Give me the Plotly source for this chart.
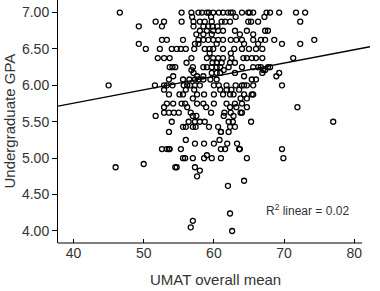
import plotly.graph_objects as go

# UMAT overall mean (x) grouped by undergraduate GPA value (y)
rows = [
    (7.00, [46.6, 55.4, 56.8, 57.8, 58.3, 59.0, 59.3, 59.9, 60.7, 61.3, 62.0, 62.4, 62.7, 64.0, 64.9, 65.1, 65.6, 67.5, 68.0, 69.3, 71.7, 73.0]),
    (6.94, [56.9, 59.6, 63.1, 67.2]),
    (6.875, [51.7, 52.9, 55.4, 57.1, 58.0, 58.7, 59.7, 61.1, 61.6, 62.3, 64.9, 65.3, 66.3, 72.3]),
    (6.81, [49.3, 52.6, 57.1, 58.5, 59.2, 59.8, 60.5]),
    (6.75, [58.0, 59.0, 59.9, 60.6, 61.3, 63.0, 64.7, 67.3, 67.7]),
    (6.70, [57.5, 58.5, 59.7, 63.7, 65.6]),
    (6.625, [52.6, 53.3, 55.6, 57.8, 58.5, 59.2, 59.9, 60.6, 61.3, 62.4, 63.2, 64.0, 65.6, 66.7, 67.3, 68.6, 74.3]),
    (6.57, [49.3, 57.3, 57.8, 60.4, 64.3, 66.3, 69.7, 72.3]),
    (6.50, [50.3, 52.3, 54.0, 54.7, 55.3, 56.0, 57.2, 58.7, 59.4, 59.9, 61.3, 62.9, 64.0, 65.0, 66.0, 66.9]),
    (6.44, [59.4, 62.4]),
    (6.375, [52.0, 52.9, 53.7, 56.8, 59.0, 59.9, 60.6, 61.3, 62.5, 64.2, 64.7, 65.4, 66.0, 66.9, 71.3]),
    (6.31, [56.1, 59.8, 60.4, 61.1, 62.3, 63.0]),
    (6.25, [53.7, 54.1, 54.5, 57.0, 58.5, 59.0, 59.7, 60.4, 60.9, 62.1, 64.0, 65.6, 66.3, 66.7, 67.7, 68.0]),
    (6.21, [56.8, 61.4, 67.3, 67.0]),
    (6.17, [57.1, 59.7, 60.4, 60.9, 63.0, 66.9, 69.3]),
    (6.125, [54.2, 57.6, 58.5, 64.3, 68.9]),
    (6.08, [53.6, 55.6, 56.5, 57.3, 57.8, 58.5, 59.5, 60.4, 65.4, 66.0]),
    (6.00, [45.0, 51.6, 52.9, 53.3, 54.1, 55.7, 56.2, 56.6, 57.3, 58.0, 60.0, 60.7, 61.8, 63.1, 64.0, 64.3, 64.7, 65.6, 69.7]),
    (5.94, [52.9, 56.0, 57.2, 60.9, 61.8, 62.5, 63.6]),
    (5.875, [53.6, 55.1, 55.6, 57.6, 58.6, 60.0, 61.3, 62.3, 62.8, 64.3, 65.4, 65.6]),
    (5.82, [57.0, 63.8, 64.7]),
    (5.75, [53.3, 54.2, 55.4, 55.9, 57.6, 58.5, 60.0, 61.8, 63.0, 64.0]),
    (5.70, [52.9, 56.2, 58.9, 62.3, 63.2, 64.7, 71.9]),
    (5.625, [52.9, 53.6, 54.3, 55.0, 56.7, 59.6, 61.5, 62.4, 63.8, 64.0]),
    (5.58, [51.7, 57.0, 57.5, 61.4, 62.8]),
    (5.50, [54.0, 56.4, 57.3, 58.0, 58.7, 62.1, 62.7, 65.3, 77.0]),
    (5.43, [55.6, 56.0, 57.0, 57.4, 59.3, 60.6, 62.3, 63.0]),
    (5.36, [53.6, 61.0, 61.0, 62.1]),
    (5.25, [56.0, 60.8]),
    (5.20, [57.3, 58.6, 60.0, 61.9, 63.3]),
    (5.125, [52.6, 53.3, 53.6, 53.7, 55.3, 61.0, 61.6, 63.6, 63.7, 69.7]),
    (5.04, [59.0]),
    (5.00, [55.6, 55.9, 57.0, 58.6, 59.7, 61.0, 64.7, 69.9]),
    (4.92, [50.0]),
    (4.875, [46.0, 54.5, 54.7, 57.3]),
    (4.83, [58.0]),
    (4.75, [57.6]),
    (4.69, [64.3]),
    (4.62, [62.0]),
    (4.24, [62.3]),
    (4.14, [57.0]),
    (4.05, [56.7]),
    (4.00, [62.6]),
]

umat = [x for y, xs in rows for x in xs]
gpa = [y for y, xs in rows for x in xs]

fit_intercept = 5.023
fit_slope = 0.01833
x_range = [37.79, 82.24]
y_range = [3.835, 7.172]
y_ticks = [4.0, 4.5, 5.0, 5.5, 6.0, 6.5, 7.0]
x_ticks = [40, 50, 60, 70, 80]

FONT = "Liberation Sans, Arial, sans-serif"
TXT = "#333333"

fig = go.Figure()
fig.add_trace(go.Scatter(
    x=x_range, y=[fit_intercept + fit_slope * v for v in x_range],
    mode="lines", line=dict(color="black", width=1.3), hoverinfo="skip"))
fig.add_trace(go.Scatter(
    x=umat, y=gpa, mode="markers",
    marker=dict(symbol="circle-open", size=5, color="black", line=dict(width=1.3))))

fig.update_layout(
    width=380, height=291,
    margin=dict(l=58, r=10, t=0, b=48),
    paper_bgcolor="white", plot_bgcolor="white",
    showlegend=False,
    font=dict(family=FONT, color=TXT, size=14),
    xaxis=dict(range=x_range, tickvals=x_ticks, ticks="inside", ticklen=4,
               tickcolor="black", showgrid=False, zeroline=False, showline=False,
               tickfont=dict(size=14, color=TXT)),
    yaxis=dict(range=y_range, tickvals=y_ticks, tickformat=".2f", ticks="outside",
               ticklen=5, tickcolor="black", showgrid=False, zeroline=False,
               showline=True, linecolor="black", linewidth=1,
               tickfont=dict(size=14, color=TXT)),
    shapes=[dict(type="line", xref="x", yref="paper", x0=x_range[0], x1=81.1,
                 y0=0, y1=0, line=dict(color="black", width=1))],
    annotations=[
        dict(text="UMAT overall mean", xref="paper", yref="paper", x=0.506, y=-0.152,
             xanchor="center", yanchor="middle", showarrow=False,
             font=dict(size=15, color=TXT)),
        dict(text="Undergraduate GPA", xref="paper", yref="paper", x=-0.157, y=0.5,
             xanchor="center", yanchor="middle", textangle=-90, showarrow=False,
             font=dict(size=15, color=TXT)),
        dict(text="R<sup>2</sup> linear = 0.02", xref="x", yref="y", x=67.14, y=4.288,
             xanchor="left", yanchor="middle", showarrow=False,
             font=dict(size=12, color=TXT)),
    ],
)

fig.write_html("out.html")
